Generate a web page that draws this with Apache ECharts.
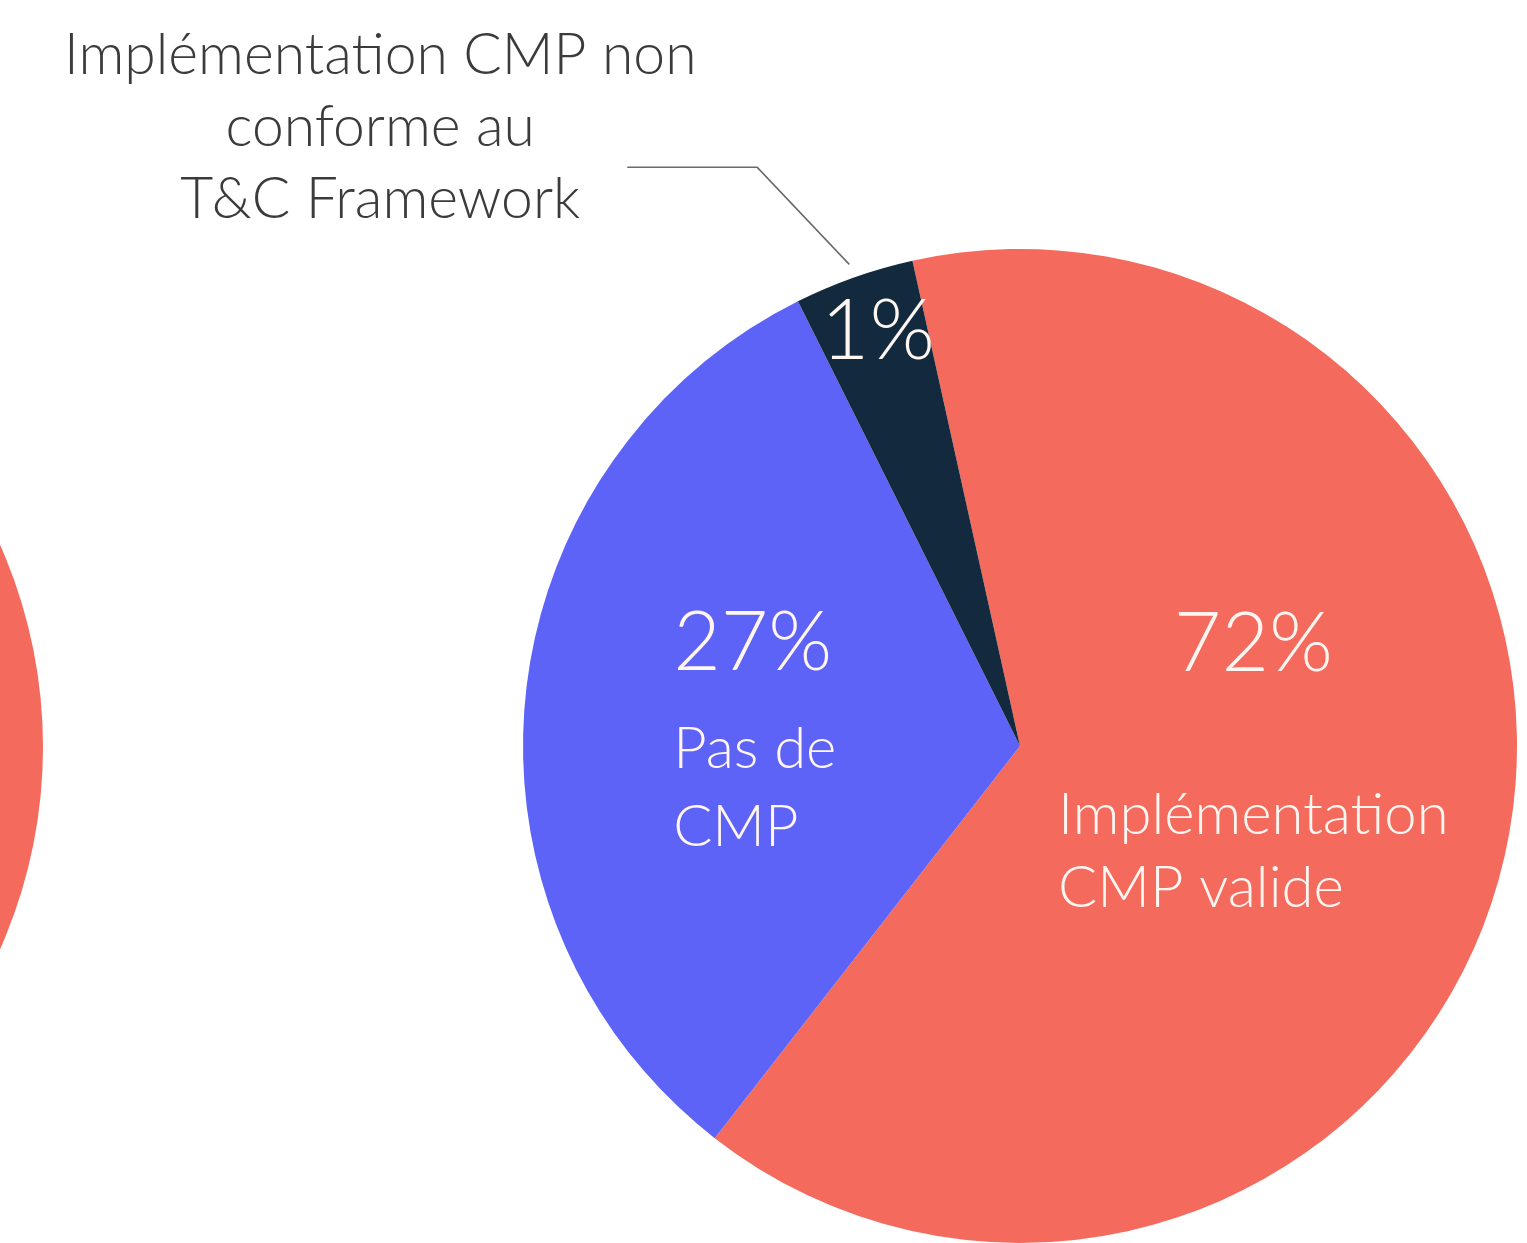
<!DOCTYPE html>
<html>
<head>
<meta charset="utf-8">
<title>Implémentation CMP</title>
<script src="https://cdn.jsdelivr.net/npm/echarts@6/dist/echarts.min.js"></script>
<style>
  html, body { margin: 0; padding: 0; background: #ffffff; }
  #chart { width: 1527px; height: 1243px; }
</style>
</head>
<body>
<div id="chart"></div>
<script>
// categories, in drawing order (clockwise from the top)
var categories = ['Implémentation CMP valide', 'Pas de CMP', 'Implémentation CMP non conforme au T&C Framework'];
// percentages printed on the slices
var shownPercent = ['72%', '27%', '1%'];
// share of the circle each slice takes in the picture
var sliceShare = [64.0, 32.1, 3.9];
// second pie, only its red edge is visible on the left
var leftPieShare = [100];

var COLORS = ['#F46A5C', '#5D63F6', '#132A3E'];
var CX = 1020, CY = 746, R = 497;
var FONT = 'Lato, "Open Sans", sans-serif';
var WEIGHT = 300;
var TEXT_IN = '#FFF6F2';

// offsets of the inside labels from their default spot
var insideShift = [[-12, -84], [-15, 0], [-58, -177]];

var chart = echarts.init(document.getElementById('chart'));

function insideLabel(i) {
	if (i === 0) {
		return {
			formatter: '{p|' + shownPercent[0] + '}\n{t|Implémentation}\n{t|CMP valide}',
			rich: {
				p: { fontSize: 82, lineHeight: 270, align: 'center', color: TEXT_IN, fontFamily: FONT, fontWeight: WEIGHT },
				t: { fontSize: 58, lineHeight: 73, align: 'left', color: TEXT_IN, fontFamily: FONT, fontWeight: WEIGHT }
			}
		};
	}
	if (i === 1) {
		return {
			formatter: '{p|' + shownPercent[1] + '}\n{t|Pas de}\n{t|CMP}',
			rich: {
				p: { fontSize: 82, lineHeight: 135, align: 'left', color: TEXT_IN, fontFamily: FONT, fontWeight: WEIGHT },
				t: { fontSize: 58, lineHeight: 78, align: 'left', color: TEXT_IN, fontFamily: FONT, fontWeight: WEIGHT }
			}
		};
	}
	return {
		formatter: '{p|' + shownPercent[2] + '}',
		rich: {
			p: { fontSize: 84, lineHeight: 90, align: 'center', color: TEXT_IN, fontFamily: FONT, fontWeight: WEIGHT }
		}
	};
}

var mainData = categories.map(function (name, i) {
	return {
		name: name,
		value: sliceShare[i],
		itemStyle: { color: COLORS[i] },
		label: insideLabel(i)
	};
});

// same slices again, invisible, only to carry the outside label of the small slice
var calloutData = categories.map(function (name, i) {
	var small = i === 2;
	return {
		name: name,
		value: sliceShare[i],
		itemStyle: { color: 'rgba(0,0,0,0)' },
		label: { show: small },
		labelLine: { show: small }
	};
});

var option = {
	animation: false,
	backgroundColor: '#ffffff',
	series: [
		{
			// left pie, cut by the page edge
			type: 'pie',
			silent: true,
			center: [43 - R, CY + 1],
			radius: R,
			label: { show: false },
			labelLine: { show: false },
			data: leftPieShare.map(function (v) {
				return { value: v, itemStyle: { color: COLORS[0] } };
			})
		},
		{
			type: 'pie',
			silent: true,
			center: [CX, CY],
			radius: R,
			startAngle: 102.5,
			clockwise: true,
			avoidLabelOverlap: false,
			label: { show: true, position: 'inside' },
			labelLine: { show: false },
			labelLayout: function (p) {
				var s = insideShift[p.dataIndex];
				return { dx: s[0], dy: s[1] };
			},
			data: mainData
		},
		{
			type: 'pie',
			silent: true,
			z: 3,
			center: [CX, CY],
			radius: R,
			startAngle: 102.5,
			clockwise: true,
			avoidLabelOverlap: false,
			label: {
				position: 'outside',
				formatter: 'Implémentation CMP non\nconforme au\nT&C Framework',
				fontFamily: FONT,
				fontWeight: WEIGHT,
				fontSize: 57,
				lineHeight: 72,
				color: '#3B3B3B',
				align: 'center'
			},
			labelLine: {
				length: 60,
				length2: 100,
				lineStyle: { color: '#6A6A6A', width: 1.5 }
			},
			labelLayout: function (p) {
				var a = p.labelLinePoints ? p.labelLinePoints[0] : [854, 277];
				var ux = (a[0] - CX) / R, uy = (a[1] - CY) / R;
				var s = [a[0] + ux * 14, a[1] + uy * 14];
				var elbow = [s[0] - 92, s[1] - 97];
				var end = [elbow[0] - 130, elbow[1]];
				return {
					x: end[0] - 247,
					y: end[1] - 40,
					align: 'center',
					verticalAlign: 'middle',
					labelLinePoints: [s, elbow, end]
				};
			},
			data: calloutData
		}
	]
};

chart.setOption(option);

window.addEventListener('resize', function () {
	chart.resize();
});
</script>
</body>
</html>
